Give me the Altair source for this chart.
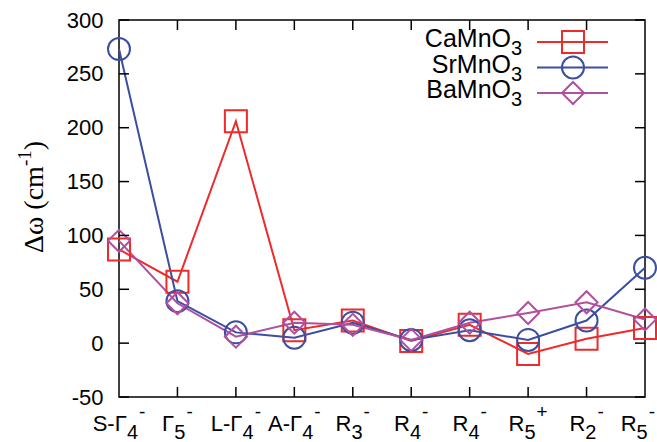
import altair as alt
import pandas as pd

# ---- data ----
label_base = ["S-Γ", "Γ", "L-Γ", "A-Γ", "R", "R", "R", "R", "R", "R"]
label_sub = ["4", "5", "4", "4", "3", "4", "4", "5", "2", "5"]
label_sup = ["-", "-", "-", "-", "-", "-", "-", "+", "-", "-"]
ca_values = [87, 57, 206, 12, 21, 2, 17, -10, 4, 14]
sr_values = [273, 39, 10, 5, 19, 3, 12, 3, 21, 70]
ba_values = [95, 37, 6, 19, 17, 3, 19, 28, 38, 22]
series_base = ["CaMnO", "SrMnO", "BaMnO"]
series_sub = ["3", "3", "3"]
series_colors = ["#ee2a2a", "#3b4ea0", "#b050a0"]
series_shapes = ["square", "circle", "diamond"]
y_ticks = [-50, 0, 50, 100, 150, 200, 250, 300]
title_base, title_sup, title_end = "Δω (cm", "-1", ")"

W, H = 526, 377
FONT = "Liberation Sans"
SERIF = "Liberation Serif"
series_names = [b + s for b, s in zip(series_base, series_sub)]

# Arial / Liberation metrics (em) used to typeset sub/superscripts
AW = {'S': .667, '-': .333, 'Γ': .556, 'L': .556, 'A': .667, 'R': .722, '+': .584,
      'C': .722, 'a': .556, 'M': .833, 'n': .556, 'O': .778, 'r': .333, 'B': .667}
for d in "0123456789":
    AW[d] = .556
TW = {'Δ': .613, 'ω': .69, ' ': .25, '(': .333, 'c': .444, 'm': .778, '-': .333,
      '1': .5, ')': .333}


def tw(s, size, table=AW):
    return sum(table[c] for c in s) * size


rows = []
for name, vals in zip(series_names, [ca_values, sr_values, ba_values]):
    for i, v in enumerate(vals):
        rows.append({"idx": i, "value": v, "series": name})
df = pd.DataFrame(rows)

xscale = alt.Scale(domain=[0, 9], nice=False, zero=False)
yscale = alt.Scale(domain=[-50, 300], nice=False, zero=False)
cscale = alt.Scale(domain=series_names, range=series_colors)
sscale = alt.Scale(domain=series_names, range=series_shapes)

x_enc = alt.X("idx:Q", scale=xscale, axis=None)
y_enc = alt.Y("value:Q", scale=yscale,
              axis=alt.Axis(values=y_ticks, title=None, ticks=False, domain=False,
                            grid=False, labelPadding=16, labelFont=FONT, labelFontSize=22,
                            labelColor="black", labelExpr="toString(datum.value)"))

base = alt.Chart(df)
lines = base.mark_line(strokeWidth=2).encode(
    x=x_enc, y=y_enc,
    color=alt.Color("series:N", scale=cscale, legend=None),
    detail="series:N",
)
points = base.mark_point(filled=False, size=484, strokeWidth=2, opacity=1).encode(
    x=alt.X("idx:Q", scale=xscale),
    y=alt.Y("value:Q", scale=yscale),
    color=alt.Color("series:N", scale=cscale, legend=None),
    shape=alt.Shape("series:N", scale=sscale, legend=None),
)

# inward ticks (gnuplot style)
ytick_df = pd.DataFrame({"value": y_ticks})
xtick_df = pd.DataFrame({"idx": list(range(1, 9))})
tick_len = 10
yt_left = alt.Chart(ytick_df).mark_rule(color="black", strokeWidth=1.5).encode(
    y=alt.Y("value:Q", scale=yscale), x=alt.value(0), x2=alt.value(tick_len))
yt_right = alt.Chart(ytick_df).mark_rule(color="black", strokeWidth=1.5).encode(
    y=alt.Y("value:Q", scale=yscale), x=alt.value(W - tick_len), x2=alt.value(W))
xt_bottom = alt.Chart(xtick_df).mark_rule(color="black", strokeWidth=1.5).encode(
    x=alt.X("idx:Q", scale=xscale), y=alt.value(H), y2=alt.value(H - tick_len))
xt_top = alt.Chart(xtick_df).mark_rule(color="black", strokeWidth=1.5).encode(
    x=alt.X("idx:Q", scale=xscale), y=alt.value(0), y2=alt.value(tick_len))

# x tick labels with real sub/superscripts
FS_MAIN, FS_SUB, FS_SUP = 22, 20, 19
PX = W / 9.0
lab_rows = []
for i, (b, s, p) in enumerate(zip(label_base, label_sub, label_sup)):
    wb, ws, wp = tw(b, FS_MAIN), tw(s, FS_SUB), tw(p, FS_SUP)
    total = wb + ws + 1 + wp
    left = i * PX - total / 2
    if left + total > W + 10:
        left = W + 10 - total
    lab_rows.append({"bx": left / PX, "sx": (left + wb) / PX,
                     "px": (left + wb + ws + 1) / PX, "b": b, "s": s, "p": p})
lab_df = pd.DataFrame(lab_rows)
lab_base = alt.Chart(lab_df).mark_text(align="left", baseline="alphabetic", font=FONT,
                                       fontSize=FS_MAIN, color="black").encode(
    x=alt.X("bx:Q", scale=xscale), y=alt.value(H + 34), text="b:N")
lab_sub = alt.Chart(lab_df).mark_text(align="left", baseline="alphabetic", font=FONT,
                                      fontSize=FS_SUB, color="black").encode(
    x=alt.X("sx:Q", scale=xscale), y=alt.value(H + 42), text="s:N")
lab_sup = alt.Chart(lab_df).mark_text(align="left", baseline="alphabetic", font=FONT,
                                      fontSize=FS_SUP, color="black").encode(
    x=alt.X("px:Q", scale=xscale), y=alt.value(H + 21), text="p:N")

# y title, rotated, with a real superscript
FT, FTS = 28, 19
one = pd.DataFrame({"a": [0]})
wt_b, wt_s, wt_e = tw(title_base, FT, TW), tw(title_sup, FTS, TW), tw(title_end, FT, TW)
tl = wt_b + wt_s + wt_e
t_center, t_base_x = 177, -76
title_layers = [
    alt.Chart(one).mark_text(text=title_base, angle=270, align="left", baseline="alphabetic",
                             font=SERIF, fontSize=FT, color="black").encode(
        x=alt.value(t_base_x), y=alt.value(t_center + tl / 2)),
    alt.Chart(one).mark_text(text=title_sup, angle=270, align="left", baseline="alphabetic",
                             font=SERIF, fontSize=FTS, color="black").encode(
        x=alt.value(t_base_x - 12), y=alt.value(t_center + tl / 2 - wt_b)),
    alt.Chart(one).mark_text(text=title_end, angle=270, align="left", baseline="alphabetic",
                             font=SERIF, fontSize=FT, color="black").encode(
        x=alt.value(t_base_x), y=alt.value(t_center + tl / 2 - wt_b - wt_s)),
]

# manual legend (label on the left, sample on the right)
legend_layers = []
for i, (bname, sname, col, shp) in enumerate(zip(series_base, series_sub, series_colors, series_shapes)):
    yy = 22 + 25.5 * i
    legend_layers.append(alt.Chart(one).mark_text(
        text=bname, align="right", baseline="alphabetic", font=FONT, fontSize=25,
        color="black").encode(x=alt.value(392), y=alt.value(yy + 5)))
    legend_layers.append(alt.Chart(one).mark_text(
        text=sname, align="left", baseline="alphabetic", font=FONT, fontSize=20,
        color="black").encode(x=alt.value(392), y=alt.value(yy + 13)))
    legend_layers.append(alt.Chart(one).mark_rule(color=col, strokeWidth=2).encode(
        x=alt.value(418), x2=alt.value(489), y=alt.value(yy)))
    legend_layers.append(alt.Chart(one).mark_point(
        shape=shp, filled=False, size=484, strokeWidth=2, color=col, opacity=1).encode(
        x=alt.value(454), y=alt.value(yy)))

chart = alt.layer(lines, points, yt_left, yt_right, xt_bottom, xt_top,
                  lab_base, lab_sub, lab_sup, *title_layers, *legend_layers).properties(
    width=W, height=H,
    autosize=alt.AutoSizeParams(type="none"),
    padding={"left": 119, "top": 20, "right": 12, "bottom": 45},
    background="white",
).configure_view(stroke="black", strokeWidth=1.5)

chart.save("out.html", embed_options={"renderer": "svg", "actions": False})
